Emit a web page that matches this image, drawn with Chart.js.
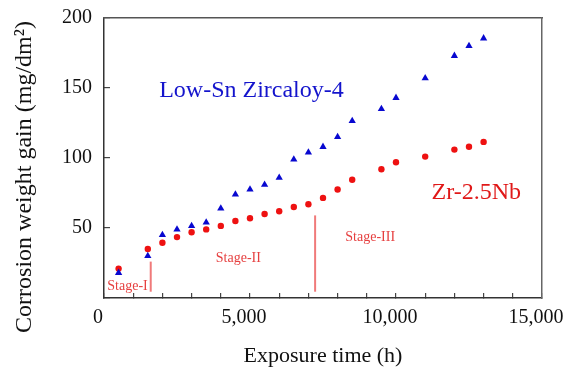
<!DOCTYPE html>
<html>
<head>
<meta charset="utf-8">
<script src="https://cdn.jsdelivr.net/npm/chart.js@4/dist/chart.umd.min.js"></script>
<style>
html,body{margin:0;padding:0;background:#ffffff;}
#wrap{width:567px;height:367px;}
</style>
</head>
<body>
<div id="wrap"><canvas id="c" width="567" height="367"></canvas></div>
<script>
// ---- data ----
const exposureHours = [500, 1500, 2000, 2500, 3000, 3500, 4000, 4500, 5000, 5500, 6000, 6500, 7000, 7500, 8000, 8500, 9500, 10000, 11000, 12000, 12500, 13000];
const lowSnZircaloy4 = [18, 30, 45, 49, 51.5, 54, 64, 74, 77.5, 81, 86, 99, 104, 108, 115, 126.5, 135, 143, 157, 173, 180, 185.5];
const zr25Nb = [21, 35, 39.5, 43.5, 47, 49, 51.5, 55, 57, 60, 62, 65, 67, 71.5, 77.5, 84.5, 92, 97, 101, 106, 108, 111.5];
const stageBoundaryHours = [1600, 7230];
const stageLineTop = [26, 59];
const stageLineBottom = [4.5, 4.5];
const stageNames = ['Stage-I', 'Stage-II', 'Stage-III'];
const seriesNames = ['Low-Sn Zircaloy-4', 'Zr-2.5Nb'];
const xTickValues = [0, 5000, 10000, 15000];
const xTickLabels = ['0', '5,000', '10,000', '15,000'];
const yTickValues = [50, 100, 150, 200];
const yTickLabels = ['50', '100', '150', '200'];
const xTitle = 'Exposure time (h)';
const yTitle = 'Corrosion weight gain (mg/dm\u00B2)';

// ---- build ----
const toPts = (xs, ys) => xs.map((x, i) => ({x: x, y: ys[i]}));
const stageLineSets = stageBoundaryHours.map((b, i) => ({
  type: 'line',
  label: 'boundary' + i,
  data: [{x: b, y: stageLineBottom[i]}, {x: b, y: stageLineTop[i]}],
  borderColor: '#f07a7a',
  borderWidth: 2,
  pointRadius: 0,
  showLine: true,
  fill: false
}));

const SERIF = '"Liberation Serif", "Times New Roman", serif';

const textLabels = [
  {text: seriesNames[0], x: 5050, y: 143.6, color: '#1414cc', size: 24},
  {text: seriesNames[1], x: 12750, y: 70.5, color: '#e01818', size: 24},
  {text: stageNames[0], x: 805, y: 5.7, color: '#e64040', size: 14},
  {text: stageNames[1], x: 4600, y: 25.9, color: '#e64040', size: 14},
  {text: stageNames[2], x: 9116, y: 40.9, color: '#e64040', size: 14}
];

const textPlugin = {
  id: 'textLabels',
  afterDatasetsDraw(chart) {
    const ctx = chart.ctx;
    const xs = chart.scales.x, ys = chart.scales.y;
    ctx.save();
    textLabels.forEach(t => {
      ctx.font = t.size + 'px ' + SERIF;
      ctx.fillStyle = t.color;
      ctx.textAlign = 'center';
      ctx.textBaseline = 'alphabetic';
      ctx.fillText(t.text, xs.getPixelForValue(t.x), ys.getPixelForValue(t.y));
    });
    ctx.restore();
  },
  afterDraw(chart) {
    // y-axis title, drawn left of the y scale
    const ctx = chart.ctx;
    const ca = chart.chartArea;
    ctx.save();
    ctx.translate(25, (ca.top + ca.bottom) / 2 + 19);
    ctx.rotate(-Math.PI / 2);
    ctx.font = '24px ' + SERIF;
    ctx.fillStyle = '#111';
    ctx.textAlign = 'center';
    ctx.textBaseline = 'middle';
    ctx.fillText(yTitle, 0, 0);
    ctx.restore();
  }
};

new Chart(document.getElementById('c'), {
  type: 'scatter',
  data: {
    datasets: [
      {
        label: seriesNames[0],
        data: toPts(exposureHours, lowSnZircaloy4),
        pointStyle: 'triangle',
        pointRadius: 4.2,
        backgroundColor: '#0808d0',
        borderColor: '#0808d0',
        borderWidth: 0
      },
      {
        label: seriesNames[1],
        data: toPts(exposureHours, zr25Nb),
        pointStyle: 'circle',
        pointRadius: 3.2,
        backgroundColor: '#ee1111',
        borderColor: '#ee1111',
        borderWidth: 0
      },
      ...stageLineSets
    ]
  },
  options: {
    responsive: false,
    devicePixelRatio: 1,
    animation: false,
    layout: {padding: {left: 0, right: 25, top: 18, bottom: 0}},
    plugins: {legend: {display: false}, tooltip: {enabled: false}, title: {display: false}},
    scales: {
      x: {
        type: 'linear', position: 'bottom', min: 0, max: 15000,
        afterFit(s) { s.height = 69; s.paddingRight = 0; s.paddingLeft = 0; },
        afterBuildTicks(s) {
          const t = [];
          for (let v = 0; v <= 15000; v += 1000) t.push({value: v});
          s.ticks = t;
        },
        ticks: {
          autoSkip: false, maxRotation: 0, padding: 13, labelOffset: -6,
          color: '#111', font: {family: SERIF, size: 20},
          callback(v) { const i = xTickValues.indexOf(v); return i >= 0 ? xTickLabels[i] : ''; }
        },
        grid: {drawOnChartArea: false, drawTicks: true, tickLength: -5, color: '#444', tickColor: '#444', lineWidth: 1.2, tickWidth: 1.2},
        border: {display: true, color: '#333', width: 1.5},
        title: {display: true, text: xTitle, color: '#111', font: {family: SERIF, size: 22, lineHeight: 1}, padding: {top: 0, bottom: 0}}
      },
      y: {
        type: 'linear', position: 'left', min: 0, max: 200,
        afterFit(s) { s.width = 104; s.paddingTop = 0; s.paddingBottom = 0; },
        afterBuildTicks(s) { s.ticks = [0].concat(yTickValues).map(v => ({value: v})); },
        ticks: {
          padding: 18, color: '#111', font: {family: SERIF, size: 20},
          callback(v) { const i = yTickValues.indexOf(v); return i >= 0 ? yTickLabels[i] : ''; }
        },
        grid: {drawOnChartArea: false, drawTicks: true, tickLength: -6, color: '#444', tickColor: '#444', lineWidth: 1.2, tickWidth: 1.2},
        border: {display: true, color: '#333', width: 1.5},
        title: {display: false}
      },
      x2: {
        type: 'linear', position: 'top', min: 0, max: 15000, display: true,
        afterFit(s) { s.height = 0; },
        ticks: {display: false},
        grid: {display: false, drawOnChartArea: false, drawTicks: false},
        border: {display: true, color: '#555', width: 1.5}
      },
      y2: {
        type: 'linear', position: 'right', min: 0, max: 200, display: true,
        afterFit(s) { s.width = 0; },
        ticks: {display: false},
        grid: {display: false, drawOnChartArea: false, drawTicks: false},
        border: {display: true, color: '#666', width: 1.5}
      }
    }
  },
  plugins: [textPlugin]
});
</script>
</body>
</html>
